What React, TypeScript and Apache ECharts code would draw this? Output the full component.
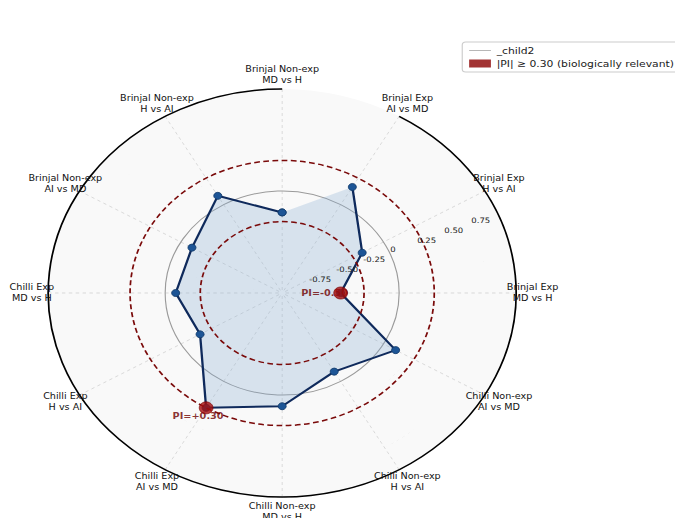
import React, { useEffect, useRef } from 'react';
import * as echarts from 'echarts';

// Categories, counter-clockwise from the top
const categories: string[] = [
  'Brinjal Non-exp\nMD vs H',
  'Brinjal Non-exp\nH vs AI',
  'Brinjal Non-exp\nAI vs MD',
  'Chilli Exp\nMD vs H',
  'Chilli Exp\nH vs AI',
  'Chilli Exp\nAI vs MD',
  'Chilli Non-exp\nMD vs H',
  'Chilli Non-exp\nH vs AI',
  'Chilli Non-exp\nAI vs MD',
  'Brinjal Exp\nMD vs H',
  'Brinjal Exp\nH vs AI',
  'Brinjal Exp\nAI vs MD',
];
const piValues: number[] = [-0.21, 0.1, -0.11, -0.09, -0.19, 0.3, 0.11, -0.11, 0.12, -0.5, -0.21, 0.2];
const thresholdCircles: number[] = [-0.3, 0.3];
const referenceCircles: number[] = [0];
const radialTicks: number[] = [-0.75, -0.5, -0.25, 0, 0.25, 0.5, 0.75];
const THRESHOLD = 0.3;
const R_MIN = -1;
const R_MAX = 1;
const TICK_ANGLE = 22.5;
const LEGEND_LINE = '_child2';
const LEGEND_SIG = '|PI| ≥ 0.30 (biologically relevant)';

const STRETCH = 1.147;
const W = 589;
const H = 518;
const FONT = '"DejaVu Sans", "Noto Sans", sans-serif';

const fmtTick = (v: number) => (v === 0 ? '0' : v.toFixed(2));

export default function App() {
  const ref = useRef<HTMLDivElement>(null);
  useEffect(() => {
    if (!ref.current) return;
    const chart = echarts.init(ref.current, null, { renderer: 'svg', width: W, height: H });
    const center = [246, 293];
    const radius = 204;
    const labelR = 1.14;
    const highlights = piValues
      .map((v, i) => ({ v, i }))
      .filter((d) => Math.abs(d.v) >= THRESHOLD - 1e-9);
    const labelOffsets: Record<number, number[]> = { 9: [-14, 0], 5: [-7, 8] };

    const option: any = {
      animation: false,
      backgroundColor: '#ffffff',
      legend: {
        orient: 'vertical',
        left: 403,
        top: 42,
        padding: [4, 6, 4, 6],
        itemGap: 4,
        itemWidth: 19,
        itemHeight: 8,
        borderColor: '#cccccc',
        borderWidth: 1,
        borderRadius: 3,
        backgroundColor: '#ffffff',
        textStyle: { fontSize: 9.4, fontFamily: FONT, color: '#1a1a1a' },
        data: [
          { name: LEGEND_LINE, icon: 'path://M0,0H30V1.3H0Z', itemStyle: { color: '#a8a8a8', borderWidth: 0 } },
          { name: LEGEND_SIG, icon: 'rect', itemStyle: { color: '#8b0000', borderWidth: 0 } },
        ],
      },
      polar: [
        { center, radius },
        { center, radius },
      ],
      angleAxis: [
        {
          polarIndex: 0,
          type: 'category',
          data: categories,
          startAngle: 90,
          clockwise: false,
          boundaryGap: false,
          axisLine: { show: true, lineStyle: { color: '#000', width: 1.5 } },
          axisTick: { show: false },
          axisLabel: { show: false },
          splitLine: { show: true, lineStyle: { color: '#d4d4d4', type: [3, 3], width: 0.8 } },
          z: 1,
        },
        {
          polarIndex: 1,
          type: 'value',
          min: 0,
          max: 360,
          startAngle: 0,
          clockwise: false,
          show: false,
        },
      ],
      radiusAxis: [
        {
          polarIndex: 0,
          type: 'value',
          min: R_MIN,
          max: R_MAX,
          interval: 0.25,
          axisLine: { show: false },
          axisTick: { show: false },
          axisLabel: { show: false },
          splitLine: { show: true, lineStyle: { color: '#d4d4d4', type: [3, 3], width: 0.8 } },
          splitArea: { show: true, areaStyle: { color: ['#f9f9f9'] } },
          z: 1,
        },
        {
          polarIndex: 1,
          type: 'value',
          min: R_MIN,
          max: R_MAX,
          show: false,
        },
      ],
      series: [
        {
          name: 'reference',
          type: 'custom',
          coordinateSystem: 'polar',
          polarIndex: 0,
          z: 2,
          silent: true,
          data: referenceCircles.map((v) => [v, 0]),
          renderItem: (params: any, api: any) => {
            const c = api.coord([R_MIN, 0]);
            const p = api.coord([api.value(0), 0]);
            const r = Math.hypot(p[0] - c[0], p[1] - c[1]);
            return {
              type: 'circle',
              shape: { cx: c[0], cy: c[1], r },
              style: { fill: 'none', stroke: '#9a9a9a', lineWidth: 1 },
            };
          },
        },
        {
          name: 'PI area',
          type: 'custom',
          coordinateSystem: 'polar',
          polarIndex: 0,
          z: 2,
          silent: true,
          data: [[piValues[0], 0]],
          renderItem: (params: any, api: any) => {
            const points = piValues.map((v, i) => api.coord([v, i]));
            return {
              type: 'polygon',
              shape: { points },
              style: { fill: 'rgba(130,170,210,0.28)', stroke: 'none' },
            };
          },
        },
        {
          name: 'PI',
          type: 'line',
          coordinateSystem: 'polar',
          polarIndex: 0,
          z: 3,
          data: [...piValues.map((v, i) => [v, i]), [piValues[0], 0]],
          symbol: 'circle',
          symbolSize: 7,
          itemStyle: { color: '#1d5596', borderColor: '#123a6b', borderWidth: 0.8 },
          lineStyle: { color: '#0f2a5c', width: 2 },
        },
        {
          name: 'thresholds',
          type: 'custom',
          coordinateSystem: 'polar',
          polarIndex: 0,
          z: 4,
          silent: true,
          data: thresholdCircles.map((v) => [v, 0]),
          renderItem: (params: any, api: any) => {
            const c = api.coord([R_MIN, 0]);
            const p = api.coord([api.value(0), 0]);
            const r = Math.hypot(p[0] - c[0], p[1] - c[1]);
            return {
              type: 'circle',
              shape: { cx: c[0], cy: c[1], r },
              style: { fill: 'none', stroke: '#7a0a0a', lineWidth: 1.5, lineDash: [5, 3] },
            };
          },
        },
        {
          name: 'PI labels',
          type: 'scatter',
          coordinateSystem: 'polar',
          polarIndex: 0,
          z: 5,
          symbolSize: 0,
          data: highlights.map((d) => ({
            value: [d.v, d.i],
            label: {
              show: true,
              position: 'inside',
              offset: labelOffsets[d.i] || [0, 10],
              formatter: 'PI=' + (d.v > 0 ? '+' : '') + d.v.toFixed(2),
              color: '#6e0000',
              fontWeight: 'bold',
              fontSize: 8.5,
              fontFamily: FONT,
            },
          })),
        },
        {
          name: LEGEND_SIG,
          type: 'scatter',
          coordinateSystem: 'polar',
          polarIndex: 0,
          z: 6,
          symbolSize: 12,
          itemStyle: { color: '#a50d0d', borderColor: '#7a0000', borderWidth: 0.8 },
          data: highlights.map((d) => [d.v, d.i]),
        },
        {
          name: LEGEND_LINE,
          type: 'line',
          coordinateSystem: 'polar',
          polarIndex: 0,
          symbol: 'none',
          itemStyle: { color: '#a8a8a8' },
          lineStyle: { color: '#a8a8a8', width: 1 },
          data: [],
        },
        {
          name: 'category labels',
          type: 'custom',
          coordinateSystem: 'polar',
          polarIndex: 0,
          z: 7,
          silent: true,
          data: categories.map((_, i) => [labelR, i]),
          renderItem: (params: any, api: any) => {
            const p = api.coord([api.value(0), api.value(1)]);
            return {
              type: 'text',
              x: p[0],
              y: p[1],
              style: {
                text: categories[params.dataIndex],
                fill: '#111',
                fontSize: 8.4,
                fontFamily: FONT,
                lineHeight: 11,
                align: 'center',
                verticalAlign: 'middle',
              },
            };
          },
        },
        {
          name: 'radial ticks',
          type: 'custom',
          coordinateSystem: 'polar',
          polarIndex: 1,
          z: 7,
          silent: true,
          data: radialTicks.map((v) => [v, TICK_ANGLE]),
          renderItem: (params: any, api: any) => {
            const v = api.value(0);
            const p = api.coord([v, api.value(1)]);
            return {
              type: 'text',
              x: p[0],
              y: p[1] - 4,
              style: {
                text: fmtTick(v),
                fill: '#222',
                fontSize: 7.4,
                fontFamily: FONT,
                align: 'left',
                verticalAlign: 'middle',
              },
            };
          },
        },
      ],
    };
    chart.setOption(option);
    return () => chart.dispose();
  }, []);

  return (
    <div
      ref={ref}
      style={{
        position: 'absolute',
        left: 0,
        top: 0,
        width: W,
        height: H,
        transform: `scaleX(${STRETCH})`,
        transformOrigin: '0 0',
      }}
    />
  );
}
